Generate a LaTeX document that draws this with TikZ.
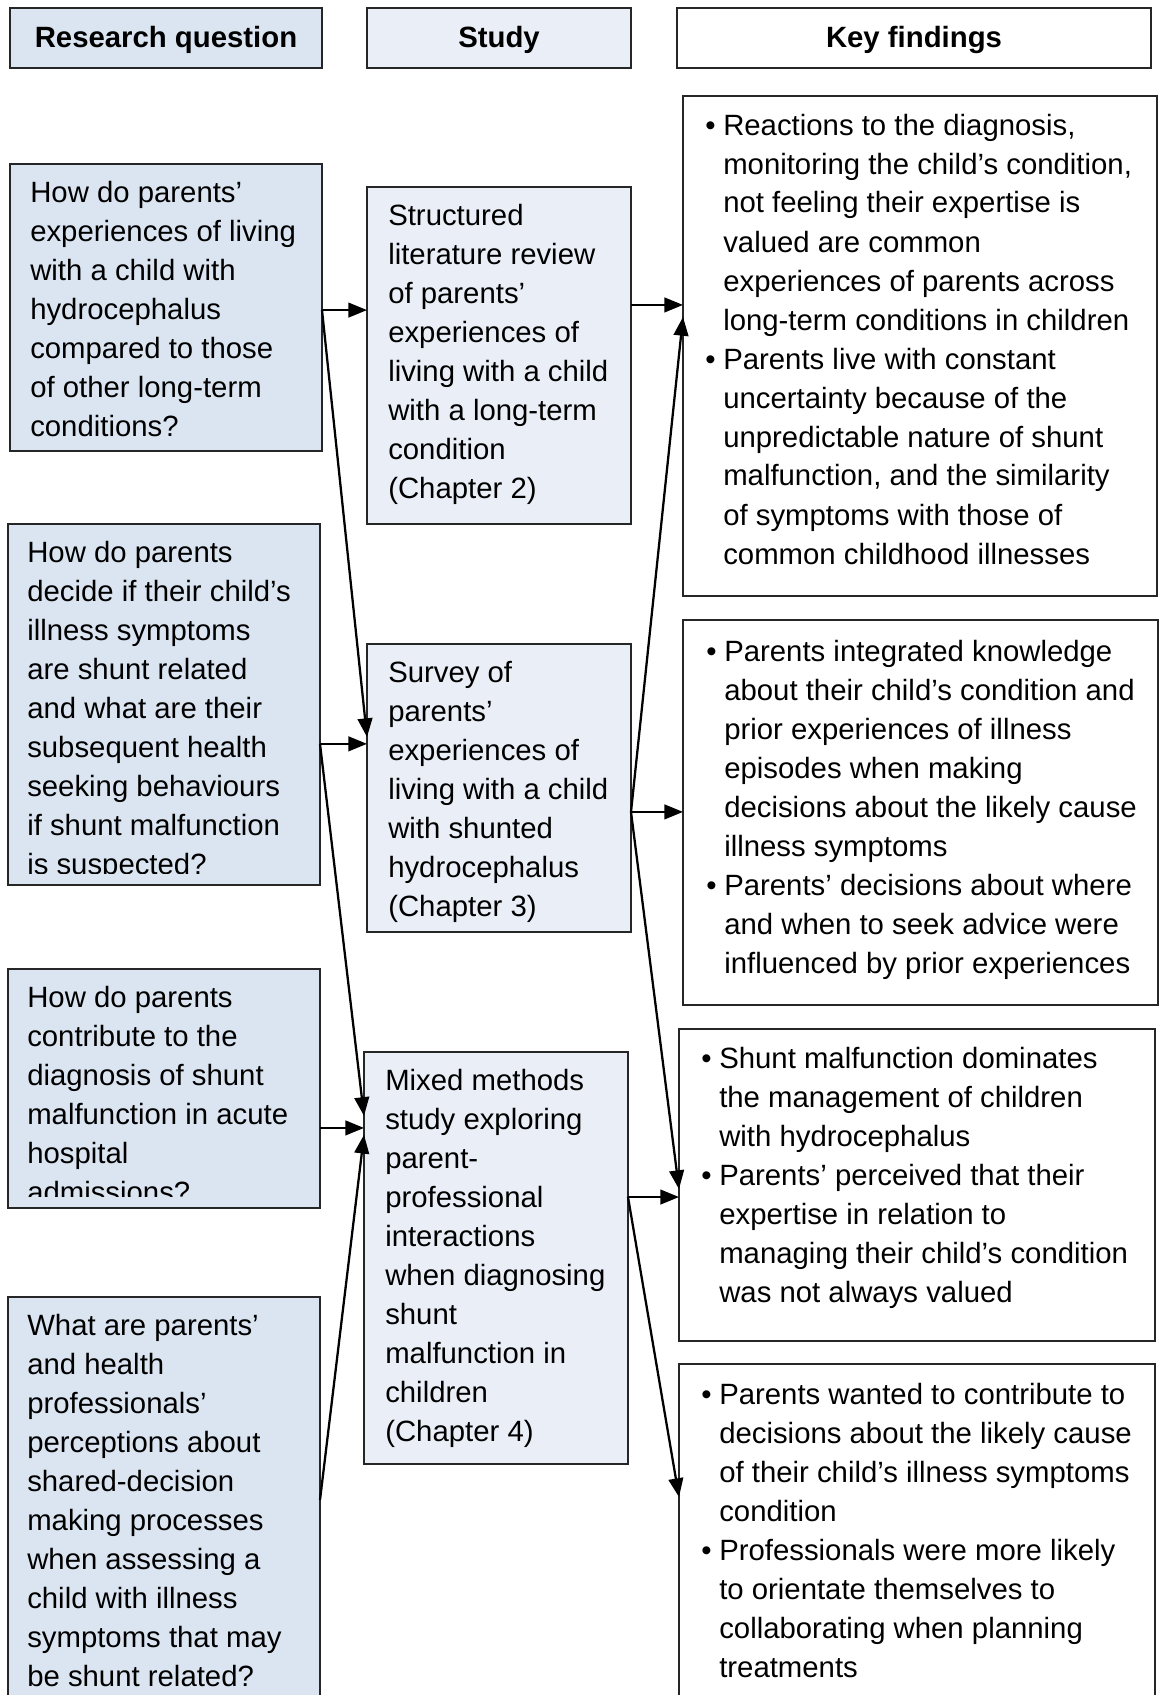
\documentclass[tikz,border=0pt]{standalone}
\usepackage{fontspec}
\setmainfont{Liberation Sans}
\usetikzlibrary{arrows.meta,fit,calc}
\definecolor{rqfill}{HTML}{DBE5F1}
\definecolor{stfill}{HTML}{EAEFF7}
\newcommand{\kfbullet}{\makebox[13.5pt][l]{\textbullet}}

\begin{document}
\begin{tikzpicture}[x=0.75pt, y=-0.75pt,
        rqbox/.style={draw=black!85, line width=1.1pt, fill=rqfill, inner sep=0pt, outer sep=0pt},
        stbox/.style={rqbox, fill=stfill},
        kfbox/.style={rqbox, fill=white},
        txt/.style={anchor=base west, inner sep=0pt, font=\fontsize{22}{29.25}\selectfont},
        head/.style={inner sep=0pt, yshift=-1.5pt, font=\fontsize{22}{29.25}\selectfont\bfseries},
        arrow/.style={-{Triangle[length=14pt,width=11pt]}, line width=1.7pt}
    ]
        \useasboundingbox (0,0) rectangle (1160,1695);
        \clip (0,0) rectangle (1160,1695);

        \node[rqbox, fit={(10,8) (322,68)}] (hRQ) {};
        \node[stbox, fit={(367,8) (631,68)}] (hST) {};
        \node[kfbox, fit={(677,8) (1151,68)}] (hKF) {};
        \node[head] (hRQt) at (hRQ.center) {Research question};
        \node[head] (hSTt) at (hST.center) {Study};
        \node[head] (hKFt) at (hKF.center) {Key findings};

        \node[rqbox, fit={(10,164) (322,451)}] (rqA) {};
        \node[rqbox, fit={(8,524) (320,885)}] (rqB) {};
        \node[rqbox, fit={(8,969) (320,1208)}] (rqC) {};
        \node[rqbox, fit={(8,1297) (320,1720)}] (rqD) {};

        \node[stbox, fit={(367,187) (631,524)}] (stA) {};
        \node[stbox, fit={(367,644) (631,932)}] (stB) {};
        \node[stbox, fit={(364,1052) (628,1464)}] (stC) {};

        \node[kfbox, fit={(683,96) (1157,596)}] (kfA) {};
        \node[kfbox, fit={(683,620) (1158,1005)}] (kfB) {};
        \node[kfbox, fit={(679,1029) (1155,1341)}] (kfC) {};
        \node[kfbox, fit={(679,1364) (1155,1720)}] (kfD) {};

        % research questions
        \node[txt] (rqAt) at (30,202) {\begin{tabular}[t]{@{}l@{}}How do parents’\\ experiences of living\\ with a child with\\ hydrocephalus\\ compared to those\\ of other long-term\\ conditions?\end{tabular}};
        \begin{scope}
            \clip (rqB.north west) rectangle ([yshift=9pt]rqB.south east);
            \node[txt] (rqBt) at (27,562) {\begin{tabular}[t]{@{}l@{}}How do parents\\ decide if their child’s\\ illness symptoms\\ are shunt related\\ and what are their\\ subsequent health\\ seeking behaviours\\ if shunt malfunction\\ is suspected?\end{tabular}};
        \end{scope}
        \begin{scope}
            \clip (rqC.north west) rectangle ([yshift=8.5pt]rqC.south east);
            \node[txt] (rqCt) at (27,1007) {\begin{tabular}[t]{@{}l@{}}How do parents\\ contribute to the\\ diagnosis of shunt\\ malfunction in acute\\ hospital\\ admissions?\end{tabular}};
        \end{scope}
        \node[txt] (rqDt) at (27,1335) {\begin{tabular}[t]{@{}l@{}}What are parents’\\ and health\\ professionals’\\ perceptions about\\ shared-decision\\ making processes\\ when assessing a\\ child with illness\\ symptoms that may\\ be shunt related?\end{tabular}};

        % studies
        \node[txt] (stAt) at (388,225) {\begin{tabular}[t]{@{}l@{}}Structured\\ literature review\\ of parents’\\ experiences of\\ living with a child\\ with a long-term\\ condition\\ (Chapter 2)\end{tabular}};
        \node[txt] (stBt) at (388,682) {\begin{tabular}[t]{@{}l@{}}Survey of\\ parents’\\ experiences of\\ living with a child\\ with shunted\\ hydrocephalus\\ (Chapter 3)\end{tabular}};
        \node[txt] (stCt) at (385,1090) {\begin{tabular}[t]{@{}l@{}}Mixed methods\\ study exploring\\ parent-\\ professional\\ interactions\\ when diagnosing\\ shunt\\ malfunction in\\ children\\ (Chapter 4)\end{tabular}};

        % key findings
        \node[txt] (kfAt) at (705,135) {\begin{tabular}[t]{@{}l@{}l@{}}\kfbullet & Reactions to the diagnosis,\\ & monitoring the child’s condition,\\ & not feeling their expertise is\\ & valued are common\\ & experiences of parents across\\ & long-term conditions in children\\ \kfbullet & Parents live with constant\\ & uncertainty because of the\\ & unpredictable nature of shunt\\ & malfunction, and the similarity\\ & of symptoms with those of\\ & common childhood illnesses\end{tabular}};
        \node[txt] (kfBt) at (706,661) {\begin{tabular}[t]{@{}l@{}l@{}}\kfbullet & Parents integrated knowledge\\ & about their child’s condition and\\ & prior experiences of illness\\ & episodes when making\\ & decisions about the likely cause\\ & illness symptoms\\ \kfbullet & Parents’ decisions about where\\ & and when to seek advice were\\ & influenced by prior experiences\end{tabular}};
        \node[txt] (kfCt) at (701,1068) {\begin{tabular}[t]{@{}l@{}l@{}}\kfbullet & Shunt malfunction dominates\\ & the management of children\\ & with hydrocephalus\\ \kfbullet & Parents’ perceived that their\\ & expertise in relation to\\ & managing their child’s condition\\ & was not always valued\end{tabular}};
        \node[txt] (kfDt) at (701,1404) {\begin{tabular}[t]{@{}l@{}l@{}}\kfbullet & Parents wanted to contribute to\\ & decisions about the likely cause\\ & of their child’s illness symptoms\\ & condition\\ \kfbullet & Professionals were more likely\\ & to orientate themselves to\\ & collaborating when planning\\ & treatments\end{tabular}};

        \coordinate (oA) at ($(rqA.north east)!0.509!(rqA.south east)$);
        \coordinate (oB) at ($(rqB.north east)!0.609!(rqB.south east)$);
        \coordinate (oC) at ($(rqC.north east)!0.665!(rqC.south east)$);
        \coordinate (oD) at ($(rqD.north east)+(0,203)$);
        \coordinate (pA) at ($(stA.north east)!0.350!(stA.south east)$);
        \coordinate (pB) at ($(stB.north east)!0.583!(stB.south east)$);
        \coordinate (pC) at ($(stC.north east)!0.352!(stC.south east)$);

        \draw[arrow] (oA) -- (oA -| stA.west);
        \draw[arrow] (oA) -- ($(stB.north west)!0.323!(stB.south west)$);
        \draw[arrow] (oB) -- (oB -| stB.west);
        \draw[arrow] (oB) -- ($(stC.north west)!0.155!(stC.south west)$);
        \draw[arrow] (oC) -- (oC -| stC.west);
        \draw[arrow] (oD) -- ($(stC.north west)!0.201!(stC.south west)$);

        \draw[arrow] (pA) -- (pA -| kfA.west);
        \draw[arrow] (pB) -- ($(kfA.north west)!0.442!(kfA.south west)$);
        \draw[arrow] (pB) -- (pB -| kfB.west);
        \draw[arrow] (pB) -- ($(kfC.north west)!0.513!(kfC.south west)$);
        \draw[arrow] (pC) -- (pC -| kfC.west);
        \draw[arrow] (pC) -- ($(kfD.north west)+(0,133)$);
    \end{tikzpicture}
\end{document}
